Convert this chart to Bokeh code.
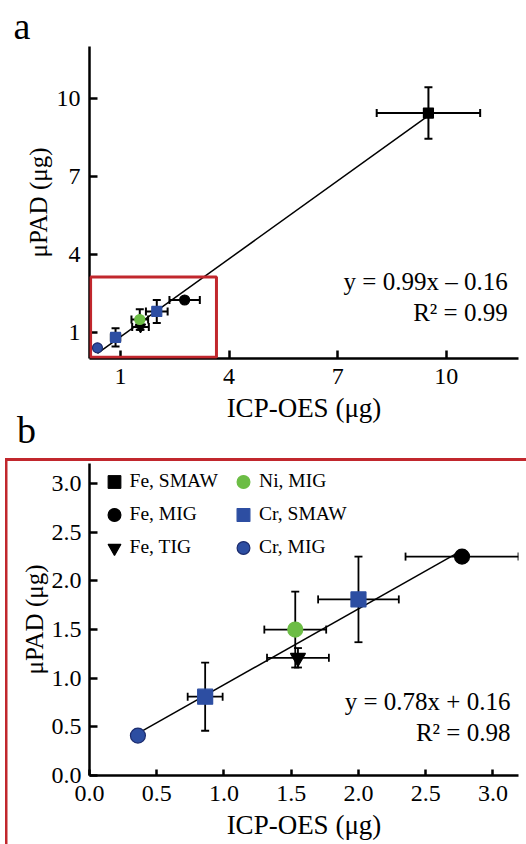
import numpy as np
from bokeh.plotting import figure
from bokeh.models import (Range1d, FixedTicker, NumeralTickFormatter, Whisker, TeeHead, Div,
                          ColumnDataSource, Legend, LegendItem, Label, BoxAnnotation, Title)
from bokeh.layouts import column
from bokeh.embed import file_html
from bokeh.resources import INLINE

# ---------------- data ----------------
series = ["Fe, SMAW", "Fe, MIG", "Fe, TIG", "Ni, MIG", "Cr, SMAW", "Cr, SMAW", "Cr, MIG"]
markers = ["square", "circle", "inverted_triangle", "circle", "square", "square", "circle"]
colors = ["#000000", "#000000", "#000000", "#6cbd45", "#2d4ea2", "#2d4ea2", "#2d4ea2"]
icp = [9.51, 2.77, 1.55, 1.53, 2.00, 0.86, 0.36]
pad = [9.44, 2.25, 1.21, 1.50, 1.81, 0.81, 0.41]
icp_err = [1.43, 0.42, 0.23, 0.23, 0.30, 0.13, 0.02]
pad_err = [0.99, 0.02, 0.10, 0.39, 0.44, 0.35, 0.02]

legend_col1 = ["Fe, SMAW", "Fe, MIG", "Fe, TIG"]
legend_col2 = ["Ni, MIG", "Cr, SMAW", "Cr, MIG"]

ticks_a = [1, 4, 7, 10]
ticks_b = [0.0, 0.5, 1.0, 1.5, 2.0, 2.5, 3.0]
eq_a = ["y = 0.99x \u2013 0.16", "R\u00b2 = 0.99"]
eq_b = ["y = 0.78x + 0.16", "R\u00b2 = 0.98"]
zoom_box = [0.17, 3.65, 0.05, 3.13]   # left, right, bottom, top of the panel-b region

FONT = "'Liberation Serif', 'Times New Roman', Times, serif"
RED = "#c1272d"


def style(p, ticks, fmt=None):
    p.grid.visible = False
    p.outline_line_color = None
    for ax in (p.xaxis[0], p.yaxis[0]):
        ax.ticker = FixedTicker(ticks=ticks)
        ax.minor_tick_line_color = None
        ax.major_tick_in = 8
        ax.major_tick_out = 0
        ax.major_tick_line_width = 2.5
        ax.axis_line_width = 2.5
        ax.major_label_text_font = FONT
        ax.major_label_text_font_size = "24px"
        ax.major_label_text_color = "black"
        ax.axis_label_text_font = FONT
        ax.axis_label_text_font_style = "normal"
        ax.axis_label_text_color = "black"
        if fmt:
            ax.formatter = NumeralTickFormatter(format=fmt)
    p.xaxis.axis_label_text_font_size = "27px"
    p.yaxis.axis_label_text_font_size = "25px"
    p.yaxis.axis_label_text_line_height = 1.0
    p.xaxis.major_label_standoff = 10
    p.xaxis.axis_label_standoff = 6


def draw(p, msize, cap, lw, idx):
    x = [icp[i] for i in idx]
    y = [pad[i] for i in idx]
    src = ColumnDataSource(dict(
        x=x, y=y,
        xl=[icp[i] - icp_err[i] for i in idx], xu=[icp[i] + icp_err[i] for i in idx],
        yl=[pad[i] - pad_err[i] for i in idx], yu=[pad[i] + pad_err[i] for i in idx]))
    for dim, base, lo, up in (("width", "y", "xl", "xu"), ("height", "x", "yl", "yu")):
        p.add_layout(Whisker(source=src, base=base, lower=lo, upper=up, dimension=dim,
                             line_color="black", line_width=lw,
                             lower_head=TeeHead(size=cap, line_width=lw, line_color="black"),
                             upper_head=TeeHead(size=cap, line_width=lw, line_color="black")))
    k, b = np.polyfit(x, y, 1)
    xs = np.array([min(x), max(x)])
    p.line(xs, k * xs + b, line_color="black", line_width=1.5)
    rends = {}
    for name in dict.fromkeys(series):
        sel = [i for i in range(len(series)) if series[i] == name and i in idx]
        if not sel:
            continue
        s = ColumnDataSource(dict(x=[icp[i] for i in sel], y=[pad[i] for i in sel]))
        i0 = sel[0]
        lc = "#1c2c6e" if name == "Cr, MIG" else colors[i0]
        rends[name] = p.scatter("x", "y", source=s, marker=markers[i0], size=msize,
                                fill_color=colors[i0], line_color=lc, line_width=1.2)
    return rends


def text(p, x, y, t, size, align="left"):
    p.add_layout(Label(x=x, y=y, text=t, text_align=align, text_font_style="normal",
                       text_font=FONT, text_font_size=size, text_color="black"))


# ---------------- panel a ----------------
p1 = figure(width=526, height=425, x_range=Range1d(0.14, 12), y_range=Range1d(0, 12),
            output_backend="svg", toolbar_location=None, title=None,
            min_border_left=85, min_border_right=5, min_border_top=46, min_border_bottom=66,
            x_axis_label="ICP-OES (\u03bcg)", y_axis_label="\u03bcPAD (\u03bcg)")
style(p1, ticks_a)
p1.yaxis.major_label_standoff = 9
p1.yaxis.axis_label_standoff = 2
p1.add_layout(Title(text="a", align="left", offset=-76, standoff=0,
                    text_font=FONT, text_font_size="38px", text_font_style="normal",
                    text_color="black"), "above")
p1.add_layout(BoxAnnotation(left=zoom_box[0], right=zoom_box[1], bottom=zoom_box[2], top=zoom_box[3],
                            fill_alpha=0, line_color=RED, line_alpha=1, line_width=3))
draw(p1, 10, 8, 2, list(range(len(series))))
text(p1, 11.70, 2.46, eq_a[0], "25px", "right")
text(p1, 11.70, 1.26, eq_a[1], "25px", "right")

# ---------------- label b ----------------
div_b = Div(text=("<div style=\"font-family:'Liberation Serif',serif;font-size:38px;"
                  "line-height:10px;padding-left:17px;color:black\">b</div>"),
            width=526, height=33, margin=0, styles={"overflow": "visible"})

# ---------------- panel b ----------------
p2 = figure(width=526, height=386, x_range=Range1d(0, 3.19), y_range=Range1d(0, 3.207),
            output_backend="svg", toolbar_location=None, title=None,
            min_border_left=89, min_border_right=8, min_border_top=5, min_border_bottom=69,
            x_axis_label="ICP-OES (\u03bcg)", y_axis_label="\u03bcPAD (\u03bcg)")
style(p2, ticks_b, "0.0")
p2.yaxis.major_label_standoff = 8
p2.yaxis.axis_label_standoff = 1
p2.xaxis.major_tick_in = 6
p2.background_fill_alpha = 0
p2.border_fill_alpha = 0
p2.styles = {"background": ("linear-gradient(%s,%s) 5px 0/2.5px 100%% no-repeat, "
                            "linear-gradient(%s,%s) 5px 0/100%% 3px no-repeat, white")
                           % (RED, RED, RED, RED)}
rb = draw(p2, 15, 8, 1.8, [i for i in range(len(series)) if icp[i] < 3.2])
# Fe, SMAW lies outside panel b's range; a renderer for its legend key only
if "Fe, SMAW" not in rb:
    rb["Fe, SMAW"] = p2.scatter([icp[0]], [pad[0]], marker=markers[0], size=15,
                                fill_color=colors[0], line_color=colors[0])

for names, lx in ((legend_col1, 8.6), (legend_col2, 138.1)):
    lg = Legend(items=[LegendItem(label=n, renderers=[rb[n]]) for n in names],
                location=(lx, 211.5), orientation="vertical",
                glyph_width=32, glyph_height=33, spacing=0, label_standoff=0,
                label_height=20, padding=0, margin=0,
                label_text_font=FONT, label_text_font_size="19.5px", label_text_color="black",
                border_line_alpha=0, background_fill_alpha=0)
    p2.add_layout(lg)

text(p2, 3.13, 0.62, eq_b[0], "25px", "right")
text(p2, 3.13, 0.30, eq_b[1], "25px", "right")

layout = column(p1, div_b, p2)
open("out.html", "w").write(file_html(layout, INLINE))
